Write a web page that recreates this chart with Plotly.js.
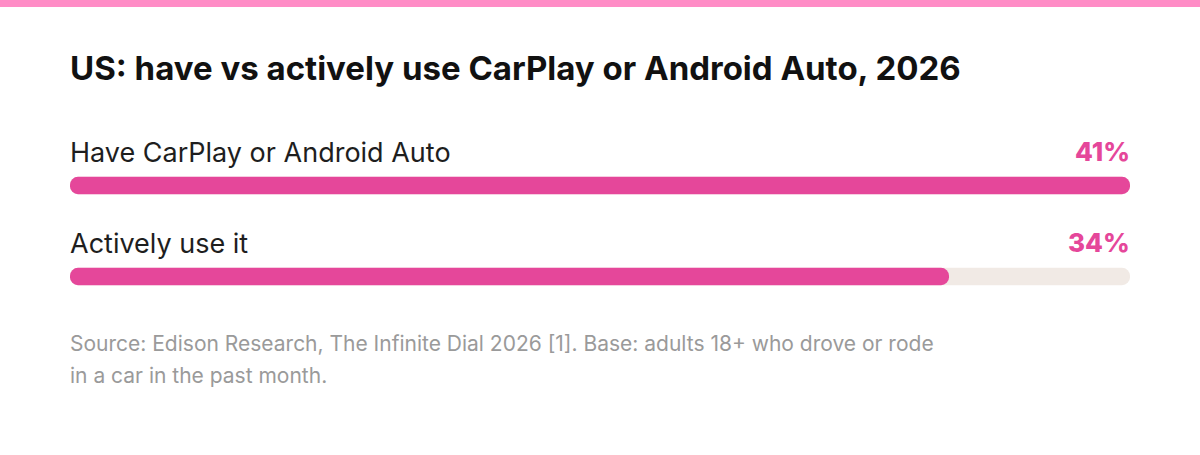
<!DOCTYPE html>
<html>
<head>
<meta charset="utf-8">
<script src="https://cdn.plot.ly/plotly-3.0.1.min.js"></script>
<style>
  html, body { margin: 0; padding: 0; background: #fff; }
  #chart { width: 1200px; height: 455px; }
</style>
</head>
<body>
<div id="chart"></div>
<script>
// Car connectivity summary: have vs actively use

var categories = ['Have CarPlay or Android Auto', 'Actively use it'];
var shares = [41, 34];
var value_labels = ['41%', '34%'];
var source_lines = [
  'Source: Edison Research, The Infinite Dial 2026 [1]. Base: adults 18+ who drove or rode',
  'in a car in the past month.'
];

var pink = '#e5479a';
var track = '#f1eae5';
var font = 'Inter, "Open Sans", sans-serif';

var W = 1200, H = 455;
var mt = 140, mb = 133;
var plot_h = H - mt - mb;

// convert page pixel (from top) to paper y
function py(px) {
  return 1 - (px - mt) / plot_h;
}

var max_val = Math.max.apply(null, shares);
var idx = categories.map(function (c, i) { return i; });

// an explicit base makes plotly round both ends of the bar
var track_trace = {
  type: 'bar', orientation: 'h',
  base: categories.map(function () { return 0; }),
  x: categories.map(function () { return max_val; }),
  y: idx, width: 0.19,
  marker: { color: track, cornerradius: 9, line: { width: 0 } },
  hoverinfo: 'skip',
};

var value_trace = {
  type: 'bar', orientation: 'h',
  base: shares.map(function () { return 0; }),
  x: shares,
  y: idx, width: 0.19,
  marker: { color: pink, cornerradius: 9, line: { width: 0 } },
  hovertemplate: '%{x}%<extra></extra>',
};

var annotations = [];
for (let i = 0; i < categories.length; i++) {
  annotations.push({
    x: 0, y: i, xref: 'x', yref: 'y',
    xanchor: 'left', yanchor: 'middle', yshift: 33, xshift: -2,
    text: categories[i], showarrow: false,
    font: { family: font, size: 27, color: '#1e1e1e' },
  });
  annotations.push({
    x: max_val, y: i, xref: 'x', yref: 'y',
    xanchor: 'right', yanchor: 'middle', yshift: 34, xshift: 2,
    text: value_labels[i], showarrow: false,
    font: { family: font, size: 26, color: pink, weight: 800 },
  });
}
for (let i = 0; i < source_lines.length; i++) {
  annotations.push({
    x: 0, y: py(343 + 32 * i), xref: 'paper', yref: 'paper',
    xanchor: 'left', yanchor: 'middle', xshift: -2,
    text: source_lines[i], showarrow: false,
    font: { family: font, size: 21, color: '#9a9a9a' },
  });
}

var layout = {
  width: W, height: H,
  margin: { t: mt, b: mb, l: 70, r: 70 },
  paper_bgcolor: '#fff',
  plot_bgcolor: '#fff',
  barmode: 'overlay',
  showlegend: false,
  title: {
    text: 'US: have vs actively use CarPlay or Android Auto, 2026',
    xref: 'container', yref: 'container',
    x: 70 / W, xanchor: 'left',
    y: 1 - 68 / H, yanchor: 'middle',
    font: { family: font, size: 33, color: '#111', weight: 700 },
  },
  xaxis: {
    range: [0, max_val],
    visible: false, fixedrange: true,
  },
  yaxis: {
    range: [1.5, -0.5],
    visible: false, fixedrange: true,
  },
  shapes: [{
    type: 'rect', xref: 'paper', yref: 'paper',
    x0: -70 / (W - 140), x1: 1 + 70 / (W - 140),
    y0: py(7), y1: py(0),
    fillcolor: '#ff8cc6', line: { width: 0 },
  }],
  annotations: annotations,
};

var config = { responsive: false, displayModeBar: false };

Plotly.newPlot('chart', [track_trace, value_trace], layout, config);
</script>
</body>
</html>
